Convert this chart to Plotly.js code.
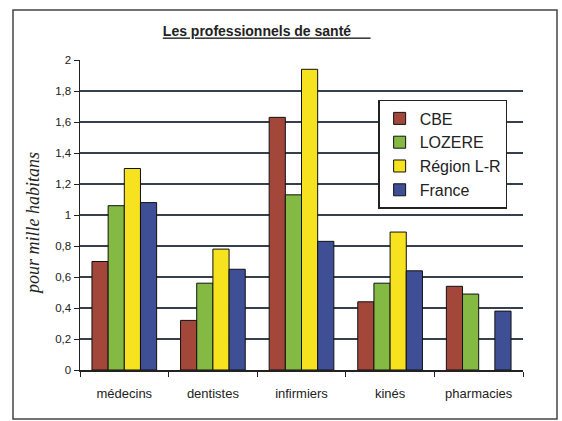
<!DOCTYPE html>
<html>
<head>
<meta charset="utf-8">
<script src="https://cdn.plot.ly/plotly-3.0.1.min.js"></script>
<style>html,body{margin:0;padding:0;background:#fff;}#chart{width:562px;height:421px;}</style>
</head>
<body>
<div id="chart"></div>
<script>
const categories = ["médecins", "dentistes", "infirmiers", "kinés", "pharmacies"];
const seriesNames = ["CBE", "LOZERE", "Région L-R", "France"];
const cbe = [0.70, 0.32, 1.63, 0.44, 0.54];
const lozere = [1.06, 0.56, 1.13, 0.56, 0.49];
const regionLR = [1.30, 0.78, 1.94, 0.89, null];
const france = [1.08, 0.65, 0.83, 0.64, 0.38];
const yTicks = [0, 0.2, 0.4, 0.6, 0.8, 1, 1.2, 1.4, 1.6, 1.8, 2];
const yTickText = ["0", "0,2", "0,4", "0,6", "0,8", "1", "1,2", "1,4", "1,6", "1,8", "2"];
const yTitle = "pour mille habitans";

const colors = ["#a3473a", "#84b944", "#f6e21e", "#3e4f95"];
const values = [cbe, lozere, regionLR, france];

const traces = values.map((v, i) => ({
  type: "bar",
  name: seriesNames[i],
  x: categories,
  y: v,
  marker: {color: colors[i], line: {color: "#111", width: 1}}
}));

const layout = {
  width: 562, height: 421,
  margin: {l: 80, r: 39, t: 60, b: 51},
  paper_bgcolor: "#fff", plot_bgcolor: "#fff",
  separators: ", ",
  font: {family: "Liberation Sans, Arial, sans-serif", color: "#222"},
  barmode: "group",
  bargap: 0.27,
  bargroupgap: 0,
  title: {
    text: "<b><u>Les professionnels de santé\u00a0\u00a0\u00a0\u00a0\u00a0</u></b>",
    font: {size: 14, color: "#222"},
    xref: "paper", x: 0.187, xanchor: "left",
    yref: "container", y: 0.925, yanchor: "middle"
  },
  xaxis: {
    type: "category",
    showline: true, linecolor: "#222", linewidth: 1.5,
    ticks: "outside", tickson: "boundaries", ticklen: 5, tickcolor: "#222",
    ticklabelstandoff: 11,
    tickfont: {size: 13, color: "#222"},
    showgrid: false, zeroline: false
  },
  yaxis: {
    range: [0, 2],
    tickvals: yTicks, ticktext: yTickText,
    showline: true, linecolor: "#222", linewidth: 1.5,
    ticks: "outside", ticklen: 5, tickcolor: "#222",
    tickfont: {size: 11.5, color: "#222"},
    showgrid: true, gridcolor: "#35404e", gridwidth: 2,
    zeroline: false
  },
  annotations: [{
    text: "<i>" + yTitle + "</i>",
    xref: "paper", yref: "paper",
    x: (33 - 80) / 443, y: (370 - 224) / 310,
    xanchor: "center", yanchor: "middle",
    textangle: -90, showarrow: false,
    font: {family: "Liberation Serif, Times New Roman, serif", size: 18, color: "#222"}
  }],
  legend: {
    x: 0.673, y: 0.871, xanchor: "left", yanchor: "top",
    bgcolor: "#fff", bordercolor: "#222", borderwidth: 1.5,
    font: {size: 16, color: "#222"},
    tracegroupgap: 0,
    entrywidth: 150
  },
  shapes: [{
    type: "rect", xref: "paper", yref: "paper",
    x0: (13 - 80) / 443, x1: (557 - 80) / 443,
    y0: (370 - 419) / 310, y1: (370 - 10) / 310,
    line: {color: "#444", width: 1.5}, fillcolor: "rgba(0,0,0,0)", layer: "below"
  }],
  showlegend: true
};

Plotly.newPlot("chart", traces, layout, {displayModeBar: false, staticPlot: true});
</script>
</body>
</html>
